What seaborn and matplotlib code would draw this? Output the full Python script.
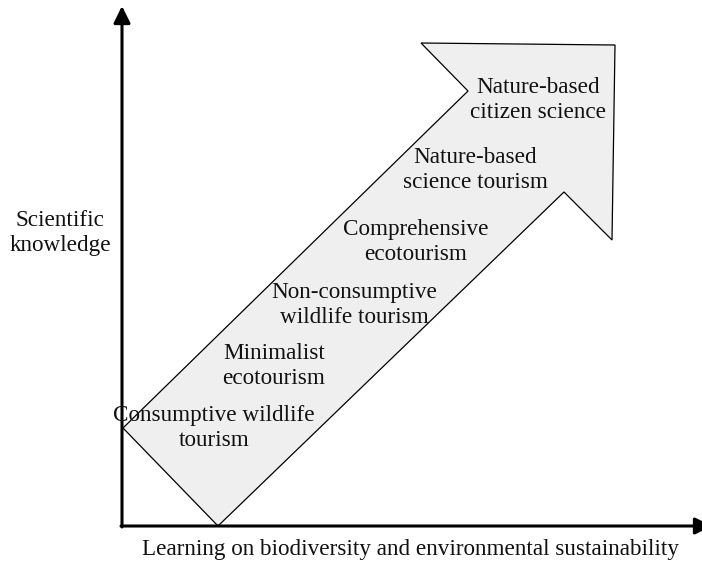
import numpy as np
import matplotlib.pyplot as plt
import seaborn as sns
from matplotlib import font_manager
from matplotlib.patches import Polygon

sns.set_theme(style="white")

# pick a Times-like serif that is actually installed
serif = 'STIXGeneral'
for name in ['Liberation Serif', 'Times New Roman', 'Nimbus Roman', 'TeX Gyre Termes']:
    try:
        font_manager.findfont(name, fallback_to_default=False)
        serif = name
        break
    except Exception:
        pass
plt.rcParams['font.family'] = [serif, 'DejaVu Serif']

# stages along the arrow, bottom-left to top-right
stages = ['Consumptive wildlife\ntourism', 'Minimalist\necotourism',
          'Non-consumptive\nwildlife tourism', 'Comprehensive\necotourism',
          'Nature-based\nscience tourism', 'Nature-based\ncitizen science']
stage_x = [214, 274, 354, 416, 475, 538]
stage_y = [428, 366, 305, 242, 170, 100]

# outline of the big arrow (pixel-like coordinates)
arrow_x = [123, 468, 421, 615, 612, 564, 218]
arrow_y = [428, 91, 43, 45, 240, 192, 526]

fig = plt.figure(figsize=(7.02, 5.63), dpi=100)
ax = fig.add_axes([0, 0, 1, 1])
ax.set_xlim(0, 702)
ax.set_ylim(563, 0)
ax.axis('off')

ax.add_patch(Polygon(np.column_stack([arrow_x, arrow_y]), closed=True,
                     facecolor='#efefef', edgecolor='black', lw=0.9, zorder=1))

# axes with arrow heads
head = '-|>,head_length=0.85,head_width=0.42'
ax.annotate('', xy=(122, 6), xytext=(122, 527), annotation_clip=False,
            arrowprops=dict(arrowstyle=head, lw=2.2, color='black',
                            shrinkA=0, shrinkB=0), zorder=3)
ax.annotate('', xy=(712, 526), xytext=(121, 526), annotation_clip=False,
            arrowprops=dict(arrowstyle=head, lw=2.2, color='black',
                            shrinkA=0, shrinkB=0), zorder=3)

fs = 16.7
for s, x, y in zip(stages, stage_x, stage_y):
    ax.text(x, y, s, ha='center', va='center', fontsize=fs,
            linespacing=1.22, color='#111111', zorder=4)

ax.text(60, 233, 'Scientific\nknowledge', ha='center', va='center',
        fontsize=fs, linespacing=1.22, color='#111111')
ax.text(411, 549, 'Learning on biodiversity and environmental sustainability',
        ha='center', va='center', fontsize=fs, color='#111111')

fig.savefig('out.png', dpi=100)
